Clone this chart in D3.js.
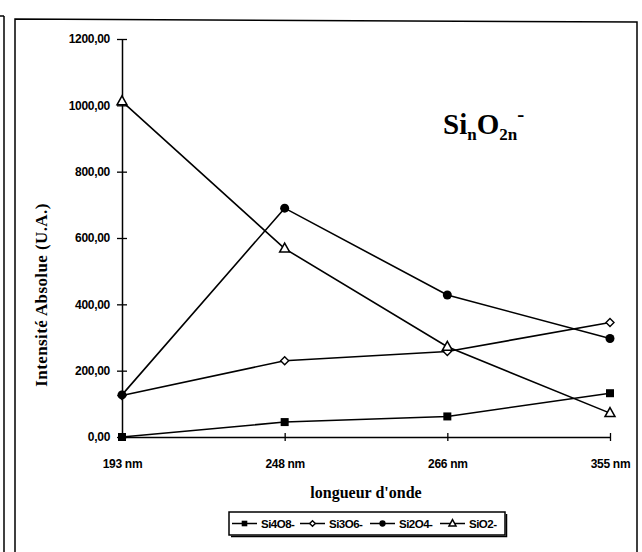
<!DOCTYPE html>
<html><head><meta charset="utf-8">
<script src="https://cdn.jsdelivr.net/npm/d3@7"></script>
<style>
html,body{margin:0;padding:0;background:#fff;}
svg{display:block;}
</style></head>
<body>
<svg id="chart" width="642" height="552"></svg>
<script>
const categories = ["193 nm", "248 nm", "266 nm", "355 nm"];
const seriesNames = ["Si4O8-", "Si3O6-", "Si2O4-", "SiO2-"];
const si4o8 = [0, 45, 62, 132];
const si3o6 = [125, 230, 258, 345];
const si2o4 = [127, 690, 428, 297];
const sio2 = [1012, 568, 272, 72];
const yTicks = [0, 200, 400, 600, 800, 1000, 1200];
const yTitle = "Intensité Absolue (U.A.)";
const xTitle = "longueur d'onde";

(function(){
const seriesValues = [si4o8, si3o6, si2o4, sio2];
const markers = ["square", "diamond", "circle", "triangle"];

const svg = d3.select("#chart");
const mLeft = 122, mRight = 610, mTop = 39, mBottom = 437;

// frame
svg.append("line").attr("x1",4).attr("x2",4).attr("y1",16).attr("y2",552).attr("stroke","#000").attr("stroke-width",1.5);
svg.append("line").attr("x1",0).attr("x2",4).attr("y1",16).attr("y2",16).attr("stroke","#000").attr("stroke-width",1.5);
svg.append("path").attr("d","M15,552 L15,19 L637,22 L637,552").attr("fill","none").attr("stroke","#000").attr("stroke-width",1.5);

const x = d3.scalePoint().domain(categories).range([mLeft, mRight]).padding(0);
const y = d3.scaleLinear().domain([0, 1200]).range([mBottom, mTop]);

const fmt = d => d3.format(".2f")(d).replace(".", ",");

// y axis
const ya = svg.append("g").attr("transform",`translate(${mLeft},0)`)
  .call(d3.axisLeft(y).tickValues(yTicks).tickFormat(fmt).tickSize(5).tickSizeOuter(0).tickPadding(9));
ya.select(".domain").attr("stroke","#000").attr("stroke-width",1.5);
ya.selectAll(".tick line").attr("x2",5).attr("x1",-5).attr("stroke-width",1.3);
ya.selectAll("text").attr("x",-12).attr("font-family","Liberation Sans, Arial, sans-serif").attr("font-size",12).attr("font-weight","bold").attr("letter-spacing","-0.3").attr("fill","#000");

// x axis
const xa = svg.append("g").attr("transform",`translate(0,${mBottom})`)
  .call(d3.axisBottom(x).tickSize(4).tickSizeOuter(0).tickPadding(18));
xa.select(".domain").attr("stroke","#000").attr("stroke-width",1.5);
xa.selectAll(".tick line").attr("y1",-4).attr("y2",4).attr("stroke-width",1.3);
xa.selectAll("text").attr("font-family","Liberation Sans, Arial, sans-serif").attr("font-size",12).attr("font-weight","bold").attr("letter-spacing","-0.3").attr("fill","#000");

// axis titles
svg.append("text").attr("transform",`translate(47,295) rotate(-90)`)
  .attr("text-anchor","middle").attr("font-family","Liberation Serif, Times New Roman, serif")
  .attr("font-weight","bold").attr("font-size",17).attr("letter-spacing","0.4").text(yTitle);
svg.append("text").attr("x",366).attr("y",498).attr("text-anchor","middle")
  .attr("font-family","Liberation Serif, Times New Roman, serif").attr("font-weight","bold").attr("font-size",16).text(xTitle);

// chart title
const t = svg.append("text").attr("x",443).attr("y",134).attr("font-family","Liberation Serif, Times New Roman, serif").attr("font-weight","bold").attr("font-size",29);
t.append("tspan").text("Si");
t.append("tspan").attr("font-size",17).attr("dy",6).text("n");
t.append("tspan").attr("dy",-6).text("O");
t.append("tspan").attr("font-size",17).attr("dy",6).text("2n");
t.append("tspan").attr("font-size",21).attr("dy",-19).text("-");

function drawMarker(g, type, cx, cy, s) {
  s = s || 1;
  if (type === "square") g.append("rect").attr("x",cx-4*s).attr("y",cy-4*s).attr("width",8*s).attr("height",8*s).attr("fill","#000");
  else if (type === "circle") g.append("circle").attr("cx",cx).attr("cy",cy).attr("r",4.5*s).attr("fill","#000");
  else if (type === "diamond") g.append("path").attr("d",`M${cx},${cy-4*s} L${cx+4*s},${cy} L${cx},${cy+4*s} L${cx-4*s},${cy} Z`).attr("fill","#fff").attr("stroke","#000").attr("stroke-width",1.4);
  else if (type === "triangle") g.append("path").attr("d",`M${cx},${cy-5.5*s} L${cx+5*s},${cy+3.5*s} L${cx-5*s},${cy+3.5*s} Z`).attr("fill","#fff").attr("stroke","#000").attr("stroke-width",1.5);
}

const line = d3.line().x((d,i)=>x(categories[i])).y(d=>y(d));
seriesValues.forEach((vals, k) => {
  const g = svg.append("g");
  g.append("path").datum(vals).attr("d", line).attr("fill","none").attr("stroke","#000").attr("stroke-width",1.6);
  vals.forEach((v,i) => drawMarker(g, markers[k], x(categories[i]), y(v)));
});

// legend
const lg = svg.append("g");
lg.append("rect").attr("x",229).attr("y",512).attr("width",276).attr("height",23).attr("fill","#fff").attr("stroke","#000").attr("stroke-width",1.5);
lg.append("path").attr("d","M231,536.5 L506.5,536.5 L506.5,514").attr("fill","none").attr("stroke","#000").attr("stroke-width",1.5);
const legX = [232, 300, 370, 440];
seriesNames.forEach((n,k) => {
  const lx = legX[k], ly = 523.5;
  lg.append("line").attr("x1",lx).attr("x2",lx+25).attr("y1",ly).attr("y2",ly).attr("stroke","#000").attr("stroke-width",1.5);
  drawMarker(lg, markers[k], lx+12.5, ly, 0.7);
  lg.append("text").attr("x",lx+29).attr("y",ly+4.5).attr("font-family","Liberation Sans, Arial, sans-serif").attr("font-size",11.5).attr("font-weight","bold").attr("letter-spacing","-0.5").text(n);
});
})();
</script>
</body></html>
